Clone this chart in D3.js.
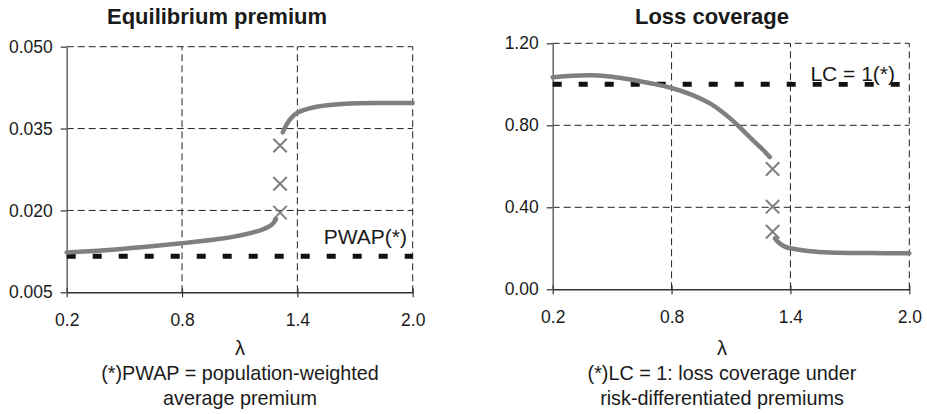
<!DOCTYPE html>
<html>
<head>
<meta charset="utf-8">
<script src="https://cdn.jsdelivr.net/npm/d3@7"></script>
<style>
  html, body { margin: 0; padding: 0; background: #fff; }
  svg { display: block; font-family: "Liberation Sans", Arial, Helvetica, sans-serif; }
</style>
</head>
<body>
<svg id="chart" width="927" height="414"></svg>
<script>
// ---------- DATA ----------
const xTicks = [0.2, 0.8, 1.4, 2.0];

// Left panel: equilibrium premium
const premiumTicks = [0.005, 0.020, 0.035, 0.050];
const premiumLow = [
  [0.2, 0.0123], [0.4, 0.0127], [0.6, 0.0133], [0.8, 0.0140],
  [1.0, 0.0148], [1.07, 0.0152], [1.15, 0.0158], [1.21, 0.0164],
  [1.25, 0.0170], [1.27, 0.0175], [1.289, 0.0184]
];
const premiumHigh = [
  [1.324, 0.0343], [1.345, 0.0358], [1.37, 0.0370], [1.4, 0.0379],
  [1.5, 0.0390], [1.67, 0.0396], [1.85, 0.0397], [2.0, 0.0397]
];
const premiumMarks = [[1.31, 0.0319], [1.31, 0.0249], [1.31, 0.0196]];
const pwap = 0.0116;

// Right panel: loss coverage
const lcTicks = [0.00, 0.40, 0.80, 1.20];
const lcHigh = [
  [0.2, 1.034], [0.3, 1.042], [0.4, 1.044], [0.5, 1.037], [0.6, 1.022],
  [0.7, 1.004], [0.8, 0.982], [0.9, 0.950], [1.0, 0.903], [1.1, 0.830],
  [1.16, 0.775], [1.21, 0.728], [1.26, 0.682], [1.296, 0.645]
];
const lcLow = [
  [1.321, 0.249], [1.34, 0.228], [1.372, 0.208], [1.4, 0.200],
  [1.5, 0.186], [1.6, 0.180], [1.8, 0.177], [2.0, 0.176]
];
const lcMarks = [[1.31, 0.587], [1.31, 0.403], [1.31, 0.281]];
const lcRef = 1.0;

// ---------- DRAW ----------
const svg = d3.select("#chart");
const curveColor = "#7f7f7f";

function panel(cfg) {
  const x = d3.scaleLinear().domain([0.2, 2.0]).range([cfg.x0, cfg.x1]);
  const y = d3.scaleLinear().domain(cfg.yDomain).range([cfg.y0, cfg.y1]);
  const g = svg.append("g");

  // grid lines (dashed)
  g.selectAll(".hgrid").data(cfg.yTicks.slice(1)).join("line")
    .attr("x1", x(0.2)).attr("x2", x(2.0))
    .attr("y1", d => y(d)).attr("y2", d => y(d))
    .attr("stroke", "#222").attr("stroke-width", 1).attr("stroke-dasharray", "7,4");
  g.selectAll(".vgrid").data(xTicks.slice(1)).join("line")
    .attr("x1", d => x(d)).attr("x2", d => x(d))
    .attr("y1", y(cfg.yDomain[0])).attr("y2", y(cfg.yDomain[1]))
    .attr("stroke", "#222").attr("stroke-width", 1).attr("stroke-dasharray", "7,4");

  // y axis
  const yAxis = d3.axisLeft(y).tickValues(cfg.yTicks).tickFormat(cfg.yFmt).tickSizeInner(6).tickSizeOuter(0).tickPadding(8);
  const ya = g.append("g").attr("transform", `translate(${x(0.2)},0)`).call(yAxis);
  ya.select(".domain").attr("stroke", "#666").attr("stroke-width", 1.5);
  ya.selectAll(".tick line").attr("stroke", "#333").attr("stroke-width", 1.2);
  ya.selectAll(".tick text").attr("font-size", 17.5).attr("fill", "#1a1a1a")
    .attr("font-family", "Liberation Sans, Arial, sans-serif");

  // x axis
  const xAxis = d3.axisBottom(x).tickValues(xTicks).tickFormat(d3.format(".1f")).tickSizeInner(5).tickSizeOuter(0).tickPadding(16);
  const xa = g.append("g").attr("transform", `translate(0,${y(cfg.yDomain[0])})`).call(xAxis);
  xa.select(".domain").attr("stroke", "#333").attr("stroke-width", 1.6);
  xa.selectAll(".tick line").attr("y1", -4).attr("stroke", "#333").attr("stroke-width", 1.2);
  xa.selectAll(".tick text").attr("font-size", 17.5).attr("fill", "#1a1a1a")
    .attr("font-family", "Liberation Sans, Arial, sans-serif");

  // reference line (thick dotted)
  g.append("line")
    .attr("x1", x(0.2)).attr("x2", x(2.0))
    .attr("y1", y(cfg.ref)).attr("y2", y(cfg.ref))
    .attr("stroke", "#111").attr("stroke-width", 5).attr("stroke-dasharray", "9,17");

  // curves
  const line = d3.line().x(d => x(d[0])).y(d => y(d[1])).curve(d3.curveCatmullRom.alpha(0.5));
  cfg.series.forEach(s => {
    g.append("path").attr("d", line(s)).attr("fill", "none")
      .attr("stroke", curveColor).attr("stroke-width", 4.5).attr("stroke-linecap", "round");
  });

  // X markers
  const sym = d3.symbol().type(d3.symbolTimes).size(120);
  g.selectAll(".mk").data(cfg.marks).join("path")
    .attr("d", sym)
    .attr("transform", d => `translate(${x(d[0])},${y(d[1])})`)
    .attr("fill", "none").attr("stroke", curveColor).attr("stroke-width", 2);

  // reference label
  if (cfg.refLabelBg) {
    g.append("rect").attr("x", x(1.4) + 2).attr("y", cfg.refLabelY - 26)
      .attr("width", x(2.0) - x(1.4) - 4).attr("height", 27).attr("fill", "#fff");
  }
  g.append("text").attr("x", cfg.refLabelX).attr("y", cfg.refLabelY)
    .attr("text-anchor", "end").attr("font-size", 21).attr("fill", "#1a1a1a")
    .text(cfg.refLabel);

  // title
  g.append("text").attr("x", cfg.titleX).attr("y", 24).attr("text-anchor", "middle")
    .attr("font-size", 22).attr("font-weight", "bold").attr("fill", "#1a1a1a").text(cfg.title);

  // lambda
  g.append("text").attr("x", cfg.noteX).attr("y", 355).attr("text-anchor", "middle")
    .attr("font-size", 20).attr("fill", "#1a1a1a").text("λ");

  // footnote
  cfg.note.forEach((t, i) => {
    g.append("text").attr("x", cfg.noteX).attr("y", 380 + i * 24.5).attr("text-anchor", "middle")
      .attr("font-size", 19.8).attr("fill", "#1a1a1a").text(t);
  });
}

panel({
  x0: 66.7, x1: 412.7, y0: 292.3, y1: 46.7,
  yDomain: [0.005, 0.050], yTicks: premiumTicks, yFmt: d3.format(".3f"),
  ref: pwap, series: [premiumLow, premiumHigh], marks: premiumMarks,
  refLabel: "PWAP(*)", refLabelX: 407, refLabelY: 244,
  title: "Equilibrium premium", titleX: 217,
  noteX: 240, note: ["(*)PWAP = population-weighted", "average premium"]
});

panel({
  x0: 552.7, x1: 909.3, y0: 289.3, y1: 43.3,
  yDomain: [0.0, 1.2], yTicks: lcTicks, yFmt: d3.format(".2f"),
  ref: lcRef, series: [lcHigh, lcLow], marks: lcMarks,
  refLabel: "LC = 1(*)", refLabelX: 895, refLabelY: 81, refLabelBg: true,
  title: "Loss coverage", titleX: 712,
  noteX: 722, note: ["(*)LC = 1: loss coverage under", "risk-differentiated premiums"]
});
</script>
</body>
</html>
